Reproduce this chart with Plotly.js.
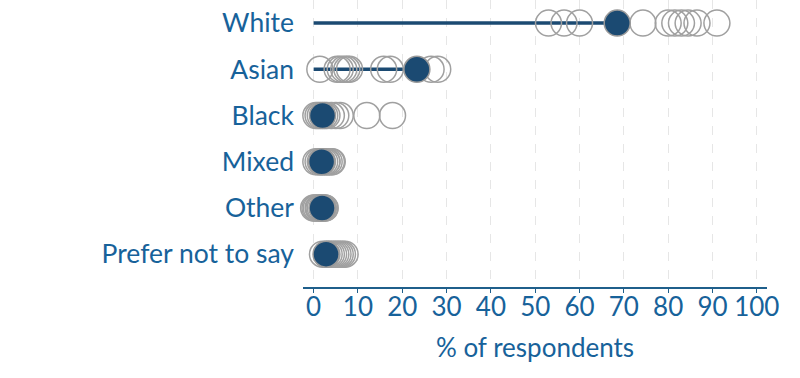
<!DOCTYPE html>
<html>
<head>
<meta charset="utf-8">
<script src="https://cdn.plot.ly/plotly-3.0.1.min.js"></script>
<style>html,body{margin:0;padding:0;background:#fff;}#chart{width:800px;height:378px;}</style>
</head>
<body>
<div id="chart"></div>
<script>
const categories = ["White", "Asian", "Black", "Mixed", "Other", "Prefer not to say"];
const overall = [68.5, 23.3, 2.0, 1.8, 1.9, 2.8];
const groupWhite = [53, 56.5, 60, 74.3, 80, 81.5, 83, 84.5, 86.5, 91];
const groupAsian = [1.4, 5.3, 6, 6.8, 7.5, 8.1, 15.8, 17.3, 26.5, 28];
const groupBlack = [0.5, 1, 1.5, 2.5, 3, 4, 5, 6, 12, 17.8];
const groupMixed = [0.5, 1, 1.5, 2, 2.5, 3, 3, 3.5, 4, 4.2];
const groupOther = [0, 0.3, 0.6, 1, 1.2, 1.5, 2, 2.2, 2.5, 2.6];
const groupPrefer = [2, 3, 3.5, 4, 4.5, 5, 5.5, 6, 6.5, 7.1];
const tickVals = [0, 10, 20, 30, 40, 50, 60, 70, 80, 90, 100];

const groups = [groupWhite, groupAsian, groupBlack, groupMixed, groupOther, groupPrefer];
const navy = "#1b4a72";
const textBlue = "#17629a";
const traces = [];
categories.forEach((c, i) => {
  traces.push({x: [0, overall[i]], y: [c, c], type: "scatter", mode: "lines",
    line: {color: navy, width: 3.5}, hoverinfo: "skip", showlegend: false, cliponaxis: false});
});
const ox = [], oy = [];
groups.forEach((g, i) => g.forEach(v => { ox.push(v); oy.push(categories[i]); }));
traces.push({x: ox, y: oy, type: "scatter", mode: "markers", cliponaxis: false, showlegend: false,
  marker: {symbol: "circle-open", size: 26, color: "#a0a0a0", line: {color: "#a0a0a0", width: 1.5}}});
traces.push({x: overall, y: categories, type: "scatter", mode: "markers", cliponaxis: false, showlegend: false,
  marker: {symbol: "circle", size: 26, color: navy, line: {color: "#9a9a9a", width: 1.5}}});

const layout = {
  width: 800, height: 378,
  margin: {l: 303, r: 33, t: 0, b: 91},
  paper_bgcolor: "#fff", plot_bgcolor: "#fff",
  font: {family: "Lato, sans-serif", color: textBlue, size: 26},
  xaxis: {
    range: [-2.4, 102.3], tickvals: tickVals, ticktext: tickVals.map(String),
    showgrid: true, gridcolor: "#e6e6e6", griddash: "dash", gridwidth: 1,
    zeroline: false, showline: true, linecolor: "#1f5f8b", linewidth: 1.5,
    ticks: "outside", ticklen: 4, tickcolor: "#1f5f8b", tickwidth: 1,
    tickfont: {size: 26, color: textBlue}, ticklabelstandoff: -8,
    title: {text: "% of respondents", font: {size: 26, color: textBlue}, standoff: 18}
  },
  yaxis: {
    type: "category", categoryorder: "array", categoryarray: categories,
    range: [5.71, -0.5], showgrid: false, zeroline: false, showline: false, ticks: "",
    tickfont: {size: 26.5, color: textBlue}, ticklabelstandoff: 8
  }
};
Plotly.newPlot("chart", traces, layout, {displayModeBar: false, staticPlot: true});
</script>
</body>
</html>
